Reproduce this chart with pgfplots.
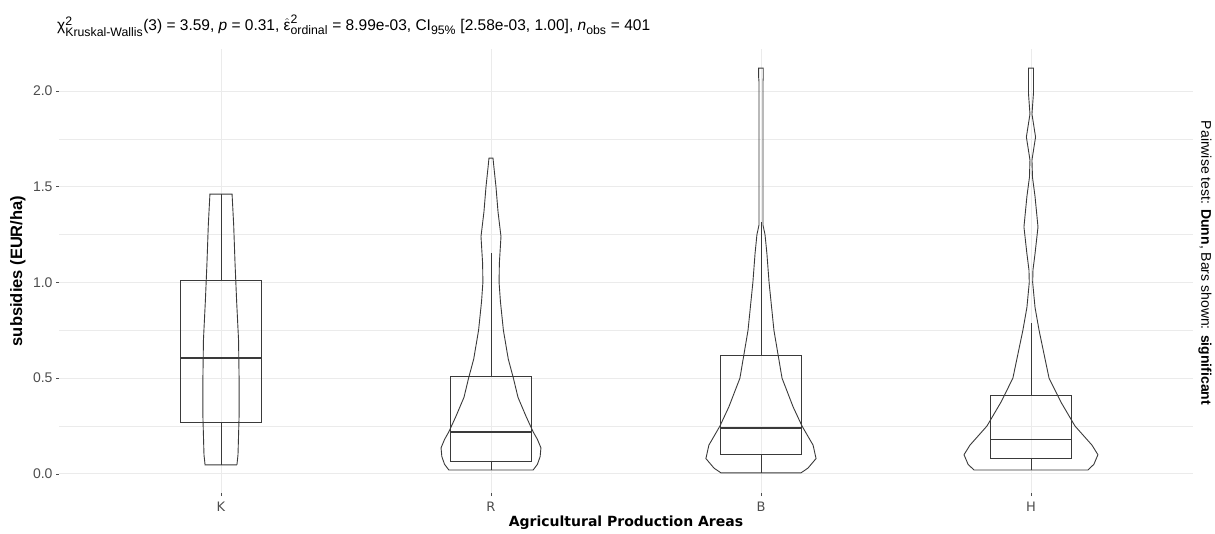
\documentclass[border=0pt]{standalone}
\usepackage{fontspec}
\setmainfont{Liberation Sans}
\newfontfamily\djs{DejaVu Sans}
\usepackage{pgfplots}
\usepackage{pgfplotstable}
\usepgfplotslibrary{statistics}
\pgfplotsset{compat=1.18}

\definecolor{gridc}{HTML}{EBEBEB}
\definecolor{linec}{HTML}{3A3A3A}
\definecolor{tickc}{HTML}{4D4D4D}

% violin outlines: s = side (1 right, -1 left), y = value, w = half width (axis units)
\pgfplotstableread{
s y w
1 0.047 0.059
1 0.10 0.063
1 0.30 0.067
1 0.50 0.067
1 0.70 0.065
1 0.90 0.058
1 1.10 0.052
1 1.30 0.047
1 1.462 0.041
-1 1.462 0.041
-1 1.30 0.047
-1 1.10 0.052
-1 0.90 0.058
-1 0.70 0.065
-1 0.50 0.067
-1 0.30 0.067
-1 0.10 0.063
-1 0.047 0.059
1 0.047 0.059
}\violinK

\pgfplotstableread{
s y w
1 0.02 0.156
1 0.05 0.172
1 0.09 0.182
1 0.136 0.185
1 0.18 0.172
1 0.22 0.156
1 0.30 0.130
1 0.40 0.100
1 0.50 0.083
1 0.60 0.064
1 0.75 0.046
1 0.90 0.035
1 1.00 0.030
1 1.10 0.031
1 1.24 0.037
1 1.37 0.026
1 1.50 0.0185
1 1.60 0.011
1 1.65 0.0074
-1 1.65 0.0074
-1 1.60 0.011
-1 1.50 0.0185
-1 1.37 0.026
-1 1.24 0.037
-1 1.10 0.031
-1 1.00 0.030
-1 0.90 0.035
-1 0.75 0.046
-1 0.60 0.064
-1 0.50 0.083
-1 0.40 0.100
-1 0.30 0.130
-1 0.22 0.156
-1 0.18 0.172
-1 0.136 0.185
-1 0.09 0.182
-1 0.05 0.172
-1 0.02 0.156
1 0.02 0.156
}\violinR

\pgfplotstableread{
s y w
1 0.005 0.148
1 0.03 0.174
1 0.08 0.204
1 0.15 0.193
1 0.25 0.152
1 0.35 0.119
1 0.50 0.078
1 0.75 0.048
1 1.00 0.030
1 1.15 0.022
1 1.25 0.015
1 1.30 0.0074
1 2.05 0.0074
1 2.07 0.0085
1 2.12 0.0085
-1 2.12 0.0085
-1 2.07 0.0085
-1 2.05 0.0074
-1 1.30 0.0074
-1 1.25 0.015
-1 1.15 0.022
-1 1.00 0.030
-1 0.75 0.048
-1 0.50 0.078
-1 0.35 0.119
-1 0.25 0.152
-1 0.15 0.193
-1 0.08 0.204
-1 0.03 0.174
-1 0.005 0.148
1 0.005 0.148
}\violinB

\pgfplotstableread{
s y w
1 0.02 0.211
1 0.05 0.233
1 0.10 0.248
1 0.15 0.226
1 0.25 0.163
1 0.375 0.111
1 0.50 0.067
1 0.75 0.030
1 0.87 0.015
1 1.00 0.0063
1 1.065 0.0074
1 1.15 0.015
1 1.29 0.026
1 1.45 0.015
1 1.55 0.0056
1 1.64 0.0037
1 1.76 0.017
1 1.88 0.0037
1 1.99 0.0093
1 2.12 0.0093
-1 2.12 0.0093
-1 1.99 0.0093
-1 1.88 0.0037
-1 1.76 0.017
-1 1.64 0.0037
-1 1.55 0.0056
-1 1.45 0.015
-1 1.29 0.026
-1 1.15 0.015
-1 1.065 0.0074
-1 1.00 0.0063
-1 0.87 0.015
-1 0.75 0.030
-1 0.50 0.067
-1 0.375 0.111
-1 0.25 0.163
-1 0.15 0.226
-1 0.10 0.248
-1 0.05 0.233
-1 0.02 0.211
1 0.02 0.211
}\violinH

\newcommand{\sub}[1]{\mbox{\fontsize{12.3}{13}\selectfont #1}}

\begin{document}
\begin{tikzpicture}[x=1pt,y=1pt]
\useasboundingbox (0,0) rectangle (1215,533);
\begin{axis}[
  at={(59pt,40pt)}, anchor=south west,
  scale only axis, width=1134pt, height=444pt,
  xmin=0.4, xmax=4.6, ymin=-0.1, ymax=2.22,
  xtick={1,2,3,4}, xticklabels={K,R,B,H},
  ytick={0,0.5,1,1.5,2},
  minor ytick={0.25,0.75,1.25,1.75},
  grid=both,
  major grid style={gridc, line width=0.9pt},
  minor grid style={gridc, line width=0.5pt},
  axis line style={draw=none},
  tick pos=left, tick align=outside,
  major tick length=3pt, minor tick length=0pt,
  tick style={tickc, line width=0.6pt},
  /pgf/number format/.cd, fixed, fixed zerofill, precision=1, assume math mode=true,
  /pgfplots/.cd,
  yticklabel style={font=\fontsize{14}{16}\selectfont, text=tickc, xshift=0pt},
  xticklabel style={font=\djs\fontsize{13}{15}\selectfont, text=tickc, yshift=-2pt},
  xlabel={\djs\bfseries Agricultural Production Areas},
  xlabel style={at={(axis description cs:0.5,-0.0676)}, anchor=center, font=\fontsize{14}{15}\selectfont},
  ylabel={\bfseries subsidies (EUR/ha)},
  ylabel style={at={(axis description cs:-0.0362,0.5)}, anchor=center, font=\fontsize{16.5}{18}\selectfont},
  clip=false,
  boxplot/draw direction=y,
  boxplot/box extend=0.3, boxplot/whisker extend=0,
  boxplot/every median/.style={line width=1.8pt},
]
\addplot[linec, line width=0.9pt] table[x expr=1+\thisrow{s}*\thisrow{w}, y=y] {\violinK};
\addplot[linec, line width=0.9pt] table[x expr=2+\thisrow{s}*\thisrow{w}, y=y] {\violinR};
\addplot[linec, line width=0.9pt] table[x expr=3+\thisrow{s}*\thisrow{w}, y=y] {\violinB};
\addplot[linec, line width=0.9pt] table[x expr=4+\thisrow{s}*\thisrow{w}, y=y] {\violinH};

\addplot[linec, line width=0.9pt, boxplot prepared={draw position=1,
  lower whisker=0.047, lower quartile=0.27, median=0.605,
  upper quartile=1.013, upper whisker=1.462}] coordinates {};
\addplot[linec, line width=0.9pt, boxplot prepared={draw position=2,
  lower whisker=0.02, lower quartile=0.063, median=0.22,
  upper quartile=0.51, upper whisker=1.155}] coordinates {};
\addplot[linec, line width=0.9pt, boxplot prepared={draw position=3,
  lower whisker=0.005, lower quartile=0.10, median=0.24,
  upper quartile=0.62, upper whisker=1.316}] coordinates {};
\addplot[linec, line width=0.9pt, boxplot prepared={draw position=4,
  lower whisker=0.02, lower quartile=0.08, median=0.18,
  upper quartile=0.41, upper whisker=0.79}] coordinates {};
\end{axis}

\node[anchor=base west, inner sep=0pt, font=\fontsize{15.5}{17}\selectfont] at (57,502)
 {χ$^{\sub{2}}_{\sub{Kruskal-Wallis}}$(3) = 3.59, \textit{p} = 0.31, $\hat{\mbox{ε}}^{\sub{2}}_{\sub{ordinal}}$ = 8.99e-03, CI$_{\sub{95\%}}$ [2.58e-03, 1.00], \textit{n}$_{\sub{obs}}$ = 401};

\node[rotate=-90, anchor=center, inner sep=0pt, font=\fontsize{14}{16}\selectfont] at (1205,270)
 {Pairwise test: \textbf{Dunn}, Bars shown: \textbf{significant}};
\end{tikzpicture}
\end{document}
